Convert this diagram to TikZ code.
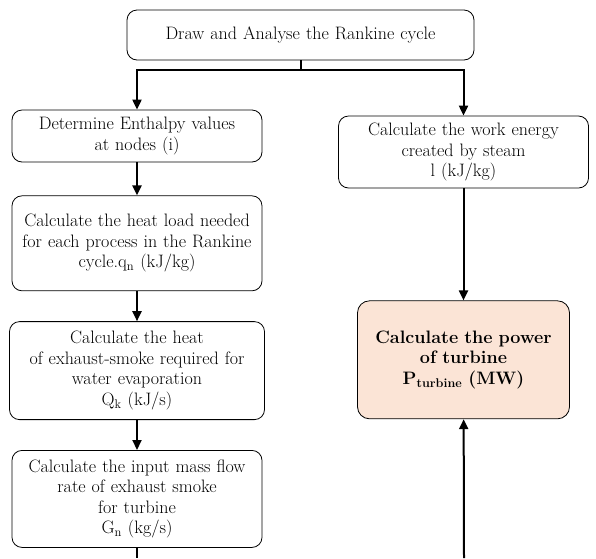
\documentclass[tikz,border=0pt]{standalone}
\usepackage{xcolor}
\usepackage{tikz}
\usetikzlibrary{positioning,arrows.meta}
\definecolor{peach}{RGB}{251,228,214}

\begin{document}
\begin{tikzpicture}[x=1pt, y=1pt,
  font=\fontsize{18}{20.5}\selectfont, >={Triangle[length=10pt,width=9pt]},
  stepbox/.style={draw, rounded corners=10pt, line width=0.8pt, fill=white,
              minimum width=250pt, inner sep=2pt, align=center, text width=246pt},
  flow/.style={line width=2pt}]
\useasboundingbox (0,0) rectangle (596,-558);

\node[stepbox, minimum width=347pt, text width=340pt, minimum height=50pt] (top) at (300.5,-35) {Draw and Analyse the Rankine cycle};

\node[stepbox, minimum height=52pt] (det) at (137,-136) {Determine Enthalpy values\\at nodes (i)};
\node[stepbox, minimum height=95pt, below=33pt of det] (heat) {Calculate the heat load needed\\for each process in the Rankine\\cycle.q\textsubscript{n} (kJ/kg)};
\node[stepbox, minimum width=255pt, minimum height=98pt, below=30pt of heat] (exh) {Calculate the heat\\of exhaust-smoke required for\\water evaporation\\Q\textsubscript{k} (kJ/s)};
\node[stepbox, minimum height=97pt, below=30pt of exh] (mass) {Calculate the input mass flow\\rate of exhaust smoke\\for turbine\\G\textsubscript{n} (kg/s)};

\node[stepbox, minimum width=247pt, minimum height=72pt] (work) at (463.5,-152) {Calculate the work energy\\created by steam\\l (kJ/kg)};
\node[stepbox, fill=peach, rounded corners=12pt, minimum width=212pt, text width=204pt,
      minimum height=118pt, below=112pt of work, font=\fontsize{18}{20.5}\selectfont\bfseries] (power)
      {Calculate the power\\of turbine\\P\textsubscript{turbine} (MW)};

\coordinate (massend) at (137,-558);
\coordinate (pin) at (464,-558);

% main branches
\draw[flow,->] (top.south) -- ++(0,-10) -| (det.north);
\draw[flow,->] (top.south) -- ++(0,-10) -| (work.north);
% left column
\draw[flow,->] (det) -- (heat);
\draw[flow,->] (heat) -- (exh);
\draw[flow,->] (exh) -- (mass);
\draw[flow] (mass) -- (massend);
% right column
\draw[flow,->] (work) -- (power);
\draw[flow,->] (pin) -- (power);
\end{tikzpicture}
\end{document}
